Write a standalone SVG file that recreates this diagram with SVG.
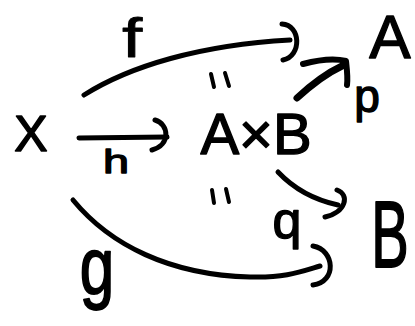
<svg xmlns="http://www.w3.org/2000/svg" width="415" height="326" viewBox="0 0 415 326">
<style>
.t{font-family:"Liberation Sans",Arial,sans-serif;fill:#000;stroke:#000;stroke-width:1.4;stroke-linejoin:round;text-anchor:middle}
.e{fill:none;stroke:#000;stroke-width:5;stroke-linecap:round;stroke-linejoin:round}
.m{fill:none;stroke:#000;stroke-width:4;stroke-linecap:round}
</style>
<rect width="415" height="326" fill="#fff"/>
<g id="node-X"><text class="t" x="31" y="151" font-size="50">X</text></g>
<g id="node-AxB"><text class="t" x="256" y="154" font-size="58">A×B</text></g>
<g id="node-A"><text class="t" x="390" y="58" font-size="62">A</text></g>
<g id="node-B"><text class="t" transform="translate(390,267) scale(0.78,1.3)" x="0" y="0" font-size="72">B</text></g>
<g id="connectors">
  <g id="edge-f">
    <path class="e" d="M84,95 C130,66 200,45 290,40"/>
    <path class="e" d="M282,24 C301,25 302,56 283,60"/>
    <text class="t" transform="translate(132,57) scale(1.3,1)" font-size="56" style="stroke-width:0.8">f</text>
  </g>
  <g id="edge-h">
    <path class="e" d="M79,138 L167,137"/>
    <path class="e" d="M155,120 C169,124 171,145 152,150"/>
    <text class="t" transform="translate(116,173) scale(1.3,0.9)" font-size="36">h</text>
  </g>
  <g id="edge-p">
    <path class="e" style="stroke-width:7" d="M297,98 C310,86 325,74 342,66"/>
    <path class="e" style="stroke-width:6" d="M303,64 C318,60 334,58 346,61 C347,70 348,78 347,85"/>
    <text class="t" x="367" y="112" font-size="46">p</text>
  </g>
  <g id="edge-q">
    <path class="e" d="M278,172 C295,190 315,200 338,205"/>
    <path class="e" d="M337,190 C350,195 346,212 325,217"/>
    <text class="t" x="287" y="238" font-size="52">q</text>
  </g>
  <g id="edge-g">
    <path class="e" d="M73,200 C110,245 170,275 250,277 C285,278 300,272 320,266"/>
    <path class="e" d="M313,246 C335,250 337,282 313,285"/>
    <text class="t" transform="translate(97,293) scale(1,1.3)" font-size="62">g</text>
  </g>
</g>
<g id="commute-marks">
  <path class="m" d="M211,74 L214,87 M225,73 L229,86"/>
  <path class="m" d="M212,190 L214,203 M226,189 L229,202"/>
</g>
</svg>
